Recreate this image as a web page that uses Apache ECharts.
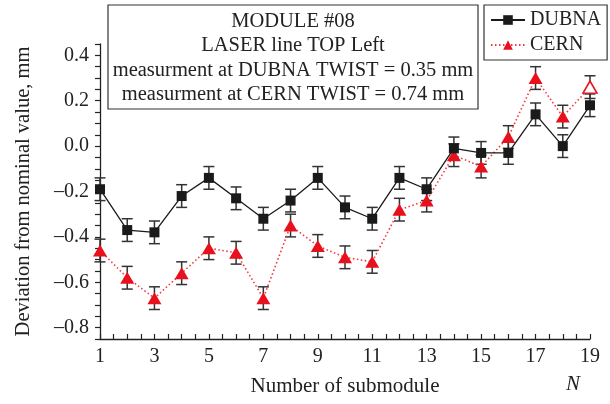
<!DOCTYPE html>
<html><head><meta charset="utf-8">
<script src="https://cdn.jsdelivr.net/npm/echarts@6/dist/echarts.min.js"></script>
<style>html,body{margin:0;padding:0;background:#fff}#c{width:610px;height:404px}</style>
</head><body><div id="c"></div>
<script>
const submodules = [1,2,3,4,5,6,7,8,9,10,11,12,13,14,15,16,17,18,19];
const dubna = [-0.19,-0.37,-0.38,-0.22,-0.14,-0.23,-0.32,-0.24,-0.14,-0.27,-0.32,-0.14,-0.19,-0.01,-0.03,-0.03,0.14,0.0,0.18];
const cern  = [-0.46,-0.58,-0.67,-0.56,-0.45,-0.47,-0.67,-0.35,-0.44,-0.49,-0.51,-0.28,-0.24,-0.04,-0.09,0.04,0.30,0.13,0.26];
const dubnaErr = [0.05,0.05,0.05,0.05,0.05,0.05,0.05,0.05,0.05,0.05,0.05,0.05,0.05,0.05,0.05,0.05,0.05,0.05,0.05];
const cernErr  = [0.05,0.05,0.05,0.05,0.05,0.05,0.05,0.05,0.05,0.05,0.05,0.05,0.05,0.05,0.05,0.05,0.05,0.05,0.05];
const infoLines = ['MODULE #08','LASER line TOP Left','measurment at DUBNA TWIST = 0.35 mm','measurment at CERN TWIST = 0.74 mm'];
const xName = 'Number of submodule';
const yName = 'Deviation from nominal value, mm';

const FONT = 'Liberation Serif';
const chart = echarts.init(document.getElementById('c'), null, {renderer:'canvas'});

function errSeries(vals, errs, name) {
  return {
    type: 'custom', name: name + '_err', silent: true, z: 1,
    data: submodules.map((n,i)=>[n, vals[i]-errs[i], vals[i]+errs[i]]),
    renderItem: function(params, api){
      const lo = api.coord([api.value(0), api.value(1)]);
      const hi = api.coord([api.value(0), api.value(2)]);
      const hw = 5.5;
      const st = {stroke:'#333', lineWidth:1.5};
      return {type:'group', children:[
        {type:'line', shape:{x1:lo[0],y1:lo[1],x2:hi[0],y2:hi[1]}, style:st},
        {type:'line', shape:{x1:lo[0]-hw,y1:lo[1],x2:lo[0]+hw,y2:lo[1]}, style:st},
        {type:'line', shape:{x1:hi[0]-hw,y1:hi[1],x2:hi[0]+hw,y2:hi[1]}, style:st}
      ]};
    }
  };
}

const cernData = submodules.map((n,i)=>{
  const d = {value:[n, cern[i]]};
  if (i === submodules.length-1) d.itemStyle = {color:'#fff', borderColor:'#e8101c', borderWidth:1.5};
  return d;
});

const option = {
  animation: false,
  backgroundColor: '#fff',
  textStyle: {fontFamily: FONT},
  grid: {left:100, right:20, top:44, bottom:65},
  legend: {
    show: true, orient:'vertical', left:484, top:5,
    data:['DUBNA','CERN'],
    borderColor:'#333', borderWidth:1.2, padding:[5,6,5,6],
    itemWidth:34, itemHeight:12, itemGap:5,
    textStyle:{fontFamily:FONT, fontSize:20, color:'#222'}
  },
  xAxis: {
    type:'value', min:1, max:19, interval:0.5,
    name: xName, nameLocation:'middle', nameGap:37,
    nameTextStyle:{fontFamily:FONT, fontSize:21, color:'#222'},
    axisLine:{onZero:false, lineStyle:{color:'#222', width:1.3}},
    axisTick:{show:true, inside:true, length:5, lineStyle:{color:'#222', width:1.2}},
    splitLine:{show:false},
    axisLabel:{fontFamily:FONT, fontSize:20, color:'#222', margin:8,
      formatter:function(v){ const r=Math.round(v*2); return (r%2===0 && (r/2)%2===1) ? String(r/2) : ''; }}
  },
  yAxis: {
    type:'value', min:-0.85, max:0.45, interval:0.05,
    name: yName, nameLocation:'middle', nameGap:66,
    nameTextStyle:{fontFamily:FONT, fontSize:20.5, color:'#222'},
    axisLine:{show:true, onZero:false, lineStyle:{color:'#222', width:1.3}},
    axisTick:{show:true, inside:false, length:5, lineStyle:{color:'#222', width:1.2}},
    splitLine:{show:false},
    axisLabel:{fontFamily:FONT, fontSize:20, color:'#222', margin:11,
      formatter:function(v){ const r=Math.round(v*100); if (r%20!==0) return ''; return (r<0?'\u2013':'') + (Math.abs(r)/100).toFixed(1); }}
  },
  series: [
    errSeries(dubna, dubnaErr, 'DUBNA'),
    errSeries(cern, cernErr, 'CERN'),
    {
      type:'line', name:'CERN', z:3,
      data: cernData,
      symbol:'triangle', symbolSize:[14,12],
      lineStyle:{color:'#f03a40', width:1.6, type:[1.5,2.5]},
      itemStyle:{color:'#e8101c'}
    },
    {
      type:'line', name:'DUBNA', z:4,
      data: submodules.map((n,i)=>[n, dubna[i]]),
      symbol:'rect', symbolSize:10,
      lineStyle:{color:'#1a1a1a', width:1.3},
      itemStyle:{color:'#1a1a1a'}
    }
  ],
  graphic: [
    {type:'rect', x:108, y:5, shape:{width:370, height:104}, style:{fill:'#fff', stroke:'#333', lineWidth:1.2}, z:10},
    {type:'text', x:293, y:9, z:11,
      style:{text:infoLines.join('\n'), fontFamily:FONT, fontSize:20.5, fill:'#222', align:'center', textAlign:'center', lineHeight:24.5}},
    {type:'text', x:566, y:374, z:11,
      style:{text:'N', fontFamily:FONT, fontSize:21, fontStyle:'italic', fill:'#222'}}
  ]
};
chart.setOption(option);
</script></body></html>
